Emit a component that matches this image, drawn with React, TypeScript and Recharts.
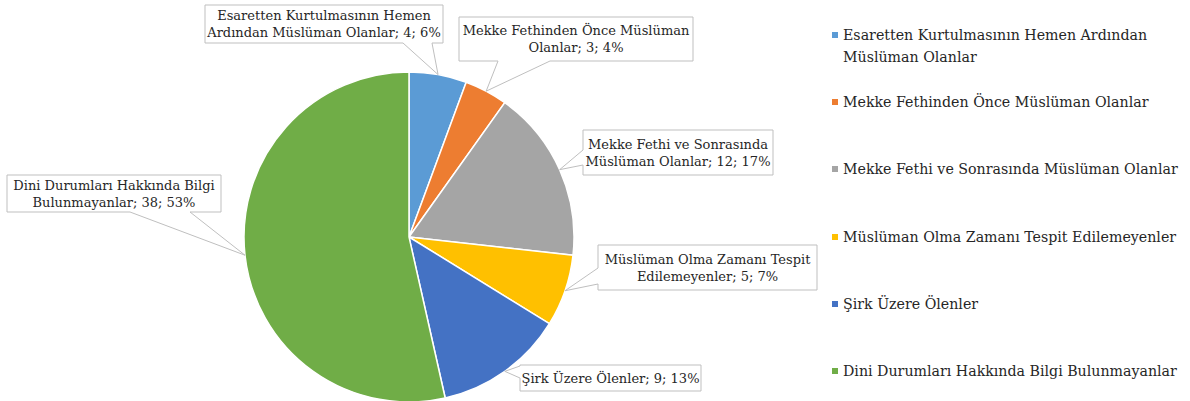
import React from 'react';
import { PieChart, Pie, Cell, Legend } from 'recharts';

const categories = [
  'Esaretten Kurtulmasının Hemen Ardından Müslüman Olanlar',
  'Mekke Fethinden Önce Müslüman Olanlar',
  'Mekke Fethi ve Sonrasında Müslüman Olanlar',
  'Müslüman Olma Zamanı Tespit Edilemeyenler',
  'Şirk Üzere Ölenler',
  'Dini Durumları Hakkında Bilgi Bulunmayanlar',
];
const counts = [4, 3, 12, 5, 9, 38];
const shares = [6, 4, 17, 7, 13, 53];
const colors = ['#5B9BD5', '#ED7D31', '#A5A5A5', '#FFC000', '#4472C4', '#70AD47'];
// number of words on the first legend line (rest wraps)
const legendBreaks = [4, 99, 99, 99, 99, 99];

const data = categories.map((name, i) => ({ name, value: counts[i], share: shares[i] }));

const FONT = '"DejaVu Serif", serif';
const TEXT = '#262626';
const CX = 409;
const CY = 237;
const R = 165;

// callout boxes, offsets relative to pie centre
type Callout = { dx: number; dy: number; w: number; h: number; side: 'bottom' | 'left'; a: number; b: number; first: number };
const callouts: Callout[] = [
  { dx: -204, dy: -232, w: 238, h: 38, side: 'bottom', a: -6, b: 23, first: 3 },
  { dx: 50, dy: -220, w: 234, h: 44, side: 'bottom', a: 89, b: 141, first: 4 },
  { dx: 174, dy: -107, w: 190, h: 45, side: 'left', a: -87, b: -72, first: 4 },
  { dx: 189, dy: 8, w: 219, h: 45, side: 'left', a: 31, b: 47, first: 4 },
  { dx: 111, dy: 128, w: 181, h: 26, side: 'left', a: 129, b: 141, first: 99 },
  { dx: -402, dy: -62, w: 214, h: 37, side: 'bottom', a: -279, b: -219, first: 4 },
];

const RAD = Math.PI / 180;

const renderLabel = (props: any) => {
  const { cx, cy, midAngle, outerRadius, index } = props;
  const c = callouts[index];
  const d = data[index];
  const tx = cx + outerRadius * Math.cos(-midAngle * RAD);
  const ty = cy + outerRadius * Math.sin(-midAngle * RAD);
  const x = cx + c.dx;
  const y = cy + c.dy;
  const { w, h } = c;
  let pts: [number, number][];
  if (c.side === 'bottom') {
    pts = [
      [x, y], [x + w, y], [x + w, y + h], [cx + c.b, y + h], [tx, ty], [cx + c.a, y + h], [x, y + h],
    ];
  } else {
    pts = [
      [x, y], [x + w, y], [x + w, y + h], [x, y + h], [x, cy + c.b], [tx, ty], [x, cy + c.a],
    ];
  }
  const path = 'M' + pts.map((p) => p[0] + ',' + p[1]).join('L') + 'Z';
  const words = `${d.name}; ${d.value}; ${d.share}%`.split(' ');
  const lines = [words.slice(0, c.first).join(' '), words.slice(c.first).join(' ')].filter((l) => l.length > 0);
  const lh = 17;
  const mid = y + h / 2;
  return (
    <g key={'lab' + index}>
      <path d={path} fill="#FFFFFF" stroke="#BFBFBF" strokeWidth={1} />
      {lines.map((l, i) => (
        <text
          key={i}
          x={x + w / 2}
          y={mid + (i - (lines.length - 1) / 2) * lh}
          textAnchor="middle"
          dominantBaseline="central"
          fontFamily={FONT}
          fontSize={13}
          fill={TEXT}
        >
          {l}
        </text>
      ))}
    </g>
  );
};

const renderLegend = (props: any) => {
  const payload: any[] = props.payload || [];
  return (
    <div style={{ fontFamily: FONT, fontSize: 14.2, color: TEXT }}>
      {categories.map((name, i) => {
        const entry = payload.find((p) => p.value === name);
        const col = (entry && entry.color) || colors[i];
        const words = name.split(' ');
        const l1 = words.slice(0, legendBreaks[i]).join(' ');
        const l2 = words.slice(legendBreaks[i]).join(' ');
        return (
          <div key={i} style={{ position: 'absolute', left: 0, top: i * 67.2, width: 360, display: 'flex', alignItems: 'flex-start' }}>
            <div style={{ width: 6, height: 6, background: col, marginTop: 8, marginRight: 5, flex: '0 0 auto' }} />
            <div style={{ lineHeight: '22px', whiteSpace: 'nowrap' }}>
              <div>{l1}</div>
              {l2 ? <div>{l2}</div> : null}
            </div>
          </div>
        );
      })}
    </div>
  );
};

export default function App() {
  return (
    <div style={{ position: 'absolute', left: 0, top: 0, width: 1190, height: 401, background: '#FFFFFF' }}>
      <PieChart width={1190} height={401} margin={{ top: 0, right: 0, bottom: 0, left: 0 }}>
        <Pie
          data={data}
          dataKey="value"
          nameKey="name"
          cx={CX}
          cy={CY}
          outerRadius={R}
          startAngle={90}
          endAngle={-270}
          stroke="#FFFFFF"
          strokeWidth={1.5}
          labelLine={false}
          label={renderLabel}
          isAnimationActive={false}
        >
          {data.map((d, i) => (
            <Cell key={i} fill={colors[i]} />
          ))}
        </Pie>
        <Legend
          content={renderLegend}
          wrapperStyle={{ position: 'absolute', left: 832, top: 24, width: 358, height: 370 }}
        />
      </PieChart>
    </div>
  );
}
